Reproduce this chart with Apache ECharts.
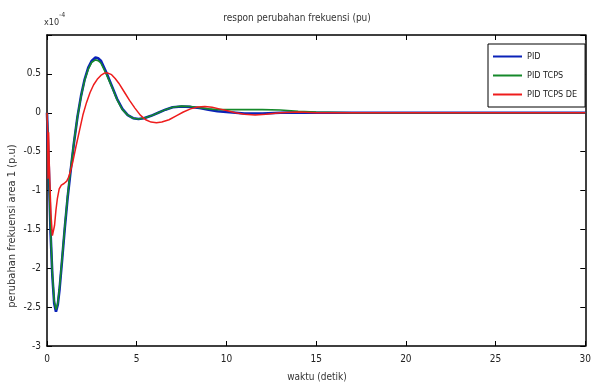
<!DOCTYPE html>
<html>
<head>
<meta charset="utf-8">
<script src="https://cdn.jsdelivr.net/npm/echarts@6/dist/echarts.min.js"></script>
<style>
html,body{margin:0;padding:0;background:#fff;}
#c{width:594px;height:385px;}
</style>
</head>
<body>
<div id="c"></div>
<script>
const titleText = "respon perubahan frekuensi (pu)";
const xLabel = "waktu (detik)";
const yLabel = "perubahan frekuensi area 1 (p.u)";
const seriesNames = ["PID", "PID TCPS", "PID TCPS DE"];
const xTicks = [0, 5, 10, 15, 20, 25, 30];
const yTicks = [-3, -2.5, -2, -1.5, -1, -0.5, 0, 0.5, 1];

const tPID = [0, 0.1, 0.2, 0.3, 0.4, 0.5, 0.6, 0.7, 0.85, 1.0, 1.15, 1.3, 1.5, 1.7, 1.9, 2.1, 2.3, 2.5, 2.7, 2.85, 3.0, 3.3, 3.6, 3.9, 4.2, 4.5, 4.8, 5.1, 5.4, 5.8, 6.2, 6.6, 7.0, 7.5, 8.0, 8.5, 9.0, 9.5, 10, 11, 12, 13, 14, 15, 17, 20, 25, 30];
const vPID = [0, -0.7, -1.55, -2.1, -2.45, -2.56, -2.47, -2.27, -1.87, -1.46, -1.09, -0.78, -0.39, -0.05, 0.22, 0.43, 0.58, 0.67, 0.71, 0.70, 0.67, 0.52, 0.35, 0.18, 0.05, -0.03, -0.07, -0.08, -0.07, -0.04, 0.0, 0.04, 0.07, 0.08, 0.075, 0.06, 0.04, 0.02, 0.01, -0.01, -0.01, 0.0, 0.005, 0, 0, 0, 0, 0];

const tTCPS = [0, 0.1, 0.2, 0.3, 0.4, 0.5, 0.6, 0.7, 0.85, 1.0, 1.15, 1.3, 1.5, 1.7, 1.9, 2.1, 2.3, 2.5, 2.7, 2.85, 3.0, 3.3, 3.6, 3.9, 4.2, 4.5, 4.8, 5.1, 5.4, 5.8, 6.2, 6.6, 7.0, 7.5, 8.0, 8.5, 9.0, 9.5, 10, 11, 12, 13, 14, 15, 17, 20, 25, 30];
const vTCPS = [0, -0.68, -1.52, -2.07, -2.42, -2.53, -2.45, -2.25, -1.85, -1.44, -1.07, -0.76, -0.38, -0.05, 0.21, 0.42, 0.56, 0.65, 0.68, 0.67, 0.64, 0.50, 0.34, 0.17, 0.04, -0.03, -0.07, -0.08, -0.07, -0.04, 0.0, 0.04, 0.07, 0.085, 0.08, 0.065, 0.05, 0.04, 0.04, 0.04, 0.04, 0.035, 0.02, 0.01, 0, 0, 0, 0];

const tDE = [0, 0.03, 0.06, 0.09, 0.12, 0.16, 0.22, 0.3, 0.36, 0.42, 0.5, 0.58, 0.68, 0.8, 0.95, 1.1, 1.2, 1.3, 1.45, 1.6, 1.8, 2.0, 2.2, 2.4, 2.6, 2.8, 3.0, 3.2, 3.4, 3.6, 3.8, 4.0, 4.3, 4.6, 4.9, 5.2, 5.5, 5.8, 6.1, 6.4, 6.8, 7.2, 7.6, 8.0, 8.4, 8.8, 9.2, 9.6, 10, 10.5, 11, 11.6, 12.2, 13, 14, 15, 17, 20, 25, 30];
const vDE = [0, -0.2, -0.85, -0.25, -0.6, -0.9, -1.3, -1.58, -1.6, -1.45, -1.25, -1.1, -0.98, -0.93, -0.91, -0.88, -0.83, -0.76, -0.62, -0.45, -0.24, -0.03, 0.13, 0.26, 0.36, 0.43, 0.48, 0.51, 0.51, 0.49, 0.44, 0.38, 0.27, 0.16, 0.06, -0.03, -0.09, -0.12, -0.13, -0.12, -0.09, -0.04, 0.01, 0.05, 0.075, 0.08, 0.07, 0.05, 0.03, 0.0, -0.02, -0.03, -0.02, 0.0, 0.01, 0.0, 0, 0, 0, 0];

const colors = ["#0a22b8", "#15892a", "#ee1c1c"];
const widths = [2.6, 1.6, 1.5];
const FONT = "'Liberation Sans Narrow','DejaVu Sans Condensed','Roboto Condensed',sans-serif";

function pairs(t, v) { return t.map((x, i) => [x, v[i]]); }
const dataSets = [pairs(tPID, vPID), pairs(tTCPS, vTCPS), pairs(tDE, vDE)];

const chart = echarts.init(document.getElementById('c'), null, {renderer: 'canvas'});
function axisBase() {
  return {
    type: 'value',
    axisLine: {show: true, onZero: false, lineStyle: {color: '#000', width: 1.5}},
    axisTick: {show: true, inside: true, length: 5, lineStyle: {color: '#000', width: 1}},
    splitLine: {show: false}
  };
}
const option = {
  animation: false,
  backgroundColor: '#fff',
  grid: {left: 47, right: 6, top: 35, bottom: 39, show: false},
  xAxis: [
    Object.assign(axisBase(), {
      min: 0, max: 30, interval: 5, position: 'bottom',
      axisLabel: {color: '#222', fontSize: 10, fontFamily: FONT, margin: 8,
        formatter: v => xTicks.includes(v) ? String(v) : ''}
    }),
    Object.assign(axisBase(), {
      min: 0, max: 30, interval: 5, position: 'top',
      axisLabel: {show: false}
    })
  ],
  yAxis: [
    Object.assign(axisBase(), {
      min: -3, max: 1, interval: 0.5, position: 'left',
      axisLabel: {color: '#222', fontSize: 10, fontFamily: FONT, margin: 6,
        formatter: v => (v === 1 || !yTicks.includes(v)) ? '' : String(v)}
    }),
    Object.assign(axisBase(), {
      min: -3, max: 1, interval: 0.5, position: 'right',
      axisLabel: {show: false}
    })
  ],
  legend: {
    orient: 'vertical', left: 488, top: 44,
    backgroundColor: '#fff', borderColor: '#000', borderWidth: 1,
    padding: [8, 8, 8, 5], itemGap: 10,
    itemWidth: 29, itemHeight: 2,
    textStyle: {fontSize: 9, fontFamily: FONT, color: '#222'},
    data: seriesNames.map((n, i) => ({name: n, icon: 'rect', itemStyle: {color: colors[i]}}))
  },
  graphic: [
    {type: 'text', left: 'center', top: 13, style: {text: titleText, fontSize: 10, fontFamily: FONT, fill: '#333'}},
    {type: 'text', x: 317, y: 372, style: {text: xLabel, fontSize: 10, fontFamily: FONT, fill: '#333', align: 'center'}},
    {type: 'text', x: 12, y: 226, rotation: Math.PI / 2, style: {text: yLabel, fontSize: 11, fontFamily: FONT, fill: '#333', align: 'center', verticalAlign: 'middle'}},
    {type: 'text', x: 44, y: 18, style: {text: 'x10', fontSize: 9, fontFamily: FONT, fill: '#333'}},
    {type: 'text', x: 59, y: 12, style: {text: '-4', fontSize: 7, fontFamily: FONT, fill: '#333'}}
  ],
  series: seriesNames.map((n, i) => ({
    name: n, type: 'line', xAxisIndex: 0, yAxisIndex: 0,
    data: dataSets[i], showSymbol: false, symbol: 'none', smooth: false,
    lineStyle: {color: colors[i], width: widths[i]},
    itemStyle: {color: colors[i]}, z: 3 + i
  }))
};
chart.setOption(option);
</script>
</body>
</html>
